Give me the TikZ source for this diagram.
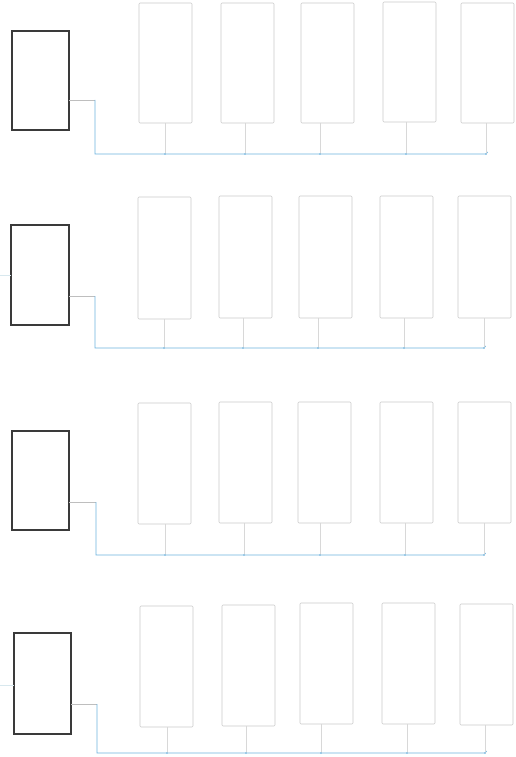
\documentclass[tikz,border=0pt]{standalone}
\usepackage{tikz}
\definecolor{darkc}{HTML}{3A3A3A}
\definecolor{grayc}{HTML}{CACACA}
\definecolor{bluec}{HTML}{6CB2DE}
\definecolor{tickc}{HTML}{D8D8D8}
\definecolor{connc}{HTML}{BEBEBE}
\definecolor{stubc}{HTML}{D8E8EE}
\tikzset{
  darkbox/.style={draw=darkc, line width=1.1pt, inner sep=0pt, outer sep=0pt, anchor=north west, minimum width=57pt, minimum height=99pt},
  graybox/.style={draw=grayc, line width=0.6pt, rounded corners=1pt, inner sep=0pt, outer sep=0pt, anchor=north west, minimum width=53pt, minimum height=120pt},
  bus/.style={draw=bluec, line width=0.9pt},
  tickline/.style={draw=tickc, line width=0.5pt},
  conn/.style={draw=connc, line width=0.6pt},
  stub/.style={draw=stubc, line width=0.6pt},
  jdot/.style={fill=bluec}
}
\begin{document}
\begin{tikzpicture}[x=1pt,y=-1pt]
\useasboundingbox (0,0) rectangle (516,757);

% ---------- Row 1 ----------
\node[darkbox] (L1) at (12,31) {};
\node[graybox] (G11) at (139,3) {};
\node[graybox] (G12) at (221,3) {};
\node[graybox] (G13) at (301,3) {};
\node[graybox] (G14) at (383,2) {};
\node[graybox] (G15) at (461,3) {};
\coordinate (c1) at (95,100);
\coordinate (e1) at (486,154);
\draw[conn] (c1 -| L1.east) -- (c1);
\draw[bus] (c1) |- (e1) -- ++(1.5,-2);
\foreach \t/\g in {165/G11,245/G12,320/G13,406/G14,486/G15}{
  \coordinate (t\g) at (\t,154);
  \draw[tickline] (\g.south -| t\g) -- (t\g);
  \fill[jdot] (t\g) circle (0.9);
}

% ---------- Row 2 ----------
\node[darkbox, minimum width=58pt, minimum height=100pt] (L2) at (11,225) {};
\node[graybox, minimum height=122pt] (G21) at (138,197) {};
\node[graybox, minimum height=122pt] (G22) at (219,196) {};
\node[graybox, minimum height=122pt] (G23) at (299,196) {};
\node[graybox, minimum height=122pt] (G24) at (380,196) {};
\node[graybox, minimum height=122pt] (G25) at (458,196) {};
\coordinate (s2) at (0,275);
\draw[stub] (s2) -- (s2 -| L2.west);
\coordinate (c2) at (95,296);
\coordinate (e2) at (484,348);
\draw[conn] (c2 -| L2.east) -- (c2);
\draw[bus] (c2) |- (e2) -- ++(1.5,-2);
\foreach \t/\g in {164/G21,243/G22,318/G23,404/G24,484/G25}{
  \coordinate (t\g) at (\t,348);
  \draw[tickline] (\g.south -| t\g) -- (t\g);
  \fill[jdot] (t\g) circle (0.9);
}

% ---------- Row 3 ----------
\node[darkbox] (L3) at (12,431) {};
\node[graybox, minimum height=121pt] (G31) at (138,403) {};
\node[graybox, minimum height=121pt] (G32) at (219,402) {};
\node[graybox, minimum height=121pt] (G33) at (298,402) {};
\node[graybox, minimum height=121pt] (G34) at (380,402) {};
\node[graybox, minimum height=121pt] (G35) at (458,402) {};
\coordinate (c3) at (96,502);
\coordinate (e3) at (484,555);
\draw[conn] (c3 -| L3.east) -- (c3);
\draw[bus] (c3) |- (e3) -- ++(1.5,-2);
\foreach \t/\g in {165/G31,244/G32,320/G33,405/G34,484/G35}{
  \coordinate (t\g) at (\t,555);
  \draw[tickline] (\g.south -| t\g) -- (t\g);
  \fill[jdot] (t\g) circle (0.9);
}

% ---------- Row 4 ----------
\node[darkbox, minimum height=101pt] (L4) at (14,633) {};
\node[graybox, minimum height=121pt] (G41) at (140,606) {};
\node[graybox, minimum height=121pt] (G42) at (222,605) {};
\node[graybox, minimum height=121pt] (G43) at (300,603) {};
\node[graybox, minimum height=121pt] (G44) at (382,603) {};
\node[graybox, minimum height=121pt] (G45) at (460,604) {};
\coordinate (s4) at (0,685);
\draw[stub] (s4) -- (s4 -| L4.west);
\coordinate (c4) at (97,704);
\coordinate (e4) at (485,753);
\draw[conn] (c4 -| L4.east) -- (c4);
\draw[bus] (c4) |- (e4) -- ++(1.5,-2);
\foreach \t/\g in {167/G41,246/G42,321/G43,407/G44,485/G45}{
  \coordinate (t\g) at (\t,753);
  \draw[tickline] (\g.south -| t\g) -- (t\g);
  \fill[jdot] (t\g) circle (0.9);
}
\end{tikzpicture}
\end{document}
